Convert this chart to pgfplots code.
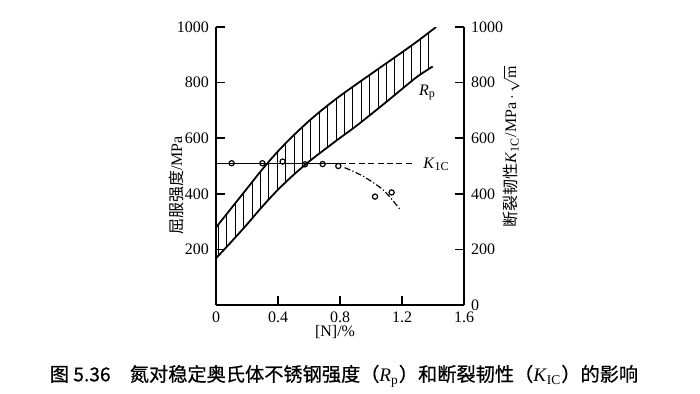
\documentclass[border=0pt]{standalone}
\usepackage{fontspec}
\setmainfont{Liberation Serif}
\newfontfamily\cjk{Noto Sans CJK SC}
\newfontfamily\cjkb[FakeBold=0.6]{Noto Sans CJK SC}
\usepackage{pgfplots}
\pgfplotsset{compat=1.18}
\usepgfplotslibrary{fillbetween}
\usetikzlibrary{patterns.meta}
\begin{document}
\begin{tikzpicture}
\pgfplotsset{
  common/.style={
    at={(108pt,44pt)}, anchor=south west,
    scale only axis, width=124pt, height=139pt,
    xmin=0, xmax=1.6, ymin=0, ymax=1000,
    tick align=inside, major tick length=4.5pt,
    axis line style={line width=0.8pt},
    every tick/.style={line width=0.8pt, black},
    tick label style={font=\fontsize{8}{9}\selectfont},
    label style={font=\fontsize{8}{9}\selectfont},
    /pgf/number format/assume math mode=true,
    /pgf/number format/set thousands separator={},
  }
}
\begin{axis}[common,
  axis x line*=bottom, axis y line*=left,
  xtick={0,0.4,0.8,1.2,1.6},
  xticklabels={0,0.4,0.8,1.2,1.6},
  ytick={200,400,600,800,1000},
  xlabel={[N]/\%},
  xlabel style={at={(axis description cs:0.48,-0.097)}, anchor=center},
  ylabel={{\cjk 屈服强度}/MPa},
  ylabel style={at={(axis description cs:-0.161,0.43)}, anchor=center},
]
\addplot[name path=upper, smooth, line width=0.9pt] coordinates {
(0,279)(0.1,349)(0.2,419)(0.3,489)(0.4,553)(0.5,610)(0.6,662)(0.7,709)
(0.8,752)(0.9,792)(1.0,831)(1.1,870)(1.2,909)(1.3,949)(1.42,1000)};
\addplot[name path=lower, smooth, line width=0.9pt] coordinates {
(0,168)(0.1,228)(0.2,290)(0.3,355)(0.4,415)(0.5,468)(0.6,516)(0.7,559)
(0.8,601)(0.9,642)(1.0,686)(1.1,731)(1.2,777)(1.3,822)(1.398,858)};
\addplot[pattern={Lines[angle=90,distance=4.2pt,line width=0.45pt]}, draw=none]
  fill between[of=upper and lower, soft clip={domain=0:1.37}];
\addplot[line width=0.45pt] coordinates {(1.37,847)(1.37,980)};
% K_IC
\addplot[line width=0.6pt] coordinates {(0,509)(0.78,509)};
\addplot[line width=0.6pt, dash pattern=on 3pt off 1.7pt] coordinates {(0.8,509)(1.285,509)};
\addplot[smooth, line width=0.6pt, dash pattern=on 3pt off 1.2pt on 0.6pt off 1.2pt] coordinates {
(0.83,494)(0.95,463)(1.08,413)(1.187,344)};
\addplot[only marks, mark=o, mark size=1.3pt, mark options={line width=0.6pt, fill=white}] coordinates {
(0.101,510)(0.299,510)(0.43,516)(0.574,506)(0.688,507)(0.789,500)(1.026,390)(1.133,405)};
\node[font=\fontsize{8}{9}\selectfont] at (axis cs:1.365,765) {\textit{R}\textsubscript{p}};
\node[anchor=west, font=\fontsize{8}{9}\selectfont, inner sep=0pt] at (axis cs:1.335,506) {\textit{K}\textsubscript{1C}};
\end{axis}
\begin{axis}[common,
  axis x line=none, axis y line*=right,
  ytick={0,200,400,600,800,1000},
  ylabel={{\cjk 断裂韧性}\textit{K}\textsubscript{1C}/MPa\,$\cdot$\,$\sqrt{\mathrm{m}}$},
  ylabel style={at={(axis description cs:1.19,0.57)}, anchor=center},
]
\addplot[opacity=0, mark=none] coordinates {(0,0)(1.6,1000)};
\end{axis}
\node[font=\cjkb\fontsize{9.6}{11}\selectfont] at (172pt,8.5pt)
  {图 5.36\quad 氮对稳定奥氏体不锈钢强度（{\rmfamily\textit{R}\textsubscript{p}}）和断裂韧性（{\rmfamily\textit{K}\textsubscript{IC}}）的影响};
\pgfresetboundingbox
\useasboundingbox (0,0) rectangle (350pt,196.5pt);
\end{tikzpicture}
\end{document}
